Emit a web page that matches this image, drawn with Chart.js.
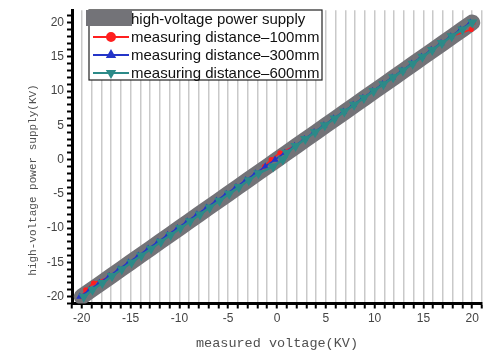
<!DOCTYPE html>
<html>
<head>
<meta charset="utf-8">
<script src="https://cdn.jsdelivr.net/npm/chart.js@4/dist/chart.umd.min.js"></script>
<style>
body{margin:0;background:#fff;}
#wrap{width:492px;height:352px;position:relative;}
</style>
</head>
<body>
<div id="wrap"><canvas id="voltchart"></canvas></div>
<script>
// supply voltage (KV), one point per kV
var supply=[-20,-19,-18,-17,-16,-15,-14,-13,-12,-11,-10,-9,-8,-7,-6,-5,-4,-3,-2,-1,0,1,2,3,4,5,6,7,8,9,10,11,12,13,14,15,16,17,18,19,20];
// measured voltage at each distance
var m100=[-20.0,-19.6,-18.8,-16.9,-15.9,-14.9,-13.9,-12.9,-11.9,-10.9,-9.9,-8.9,-7.9,-6.9,-5.9,-4.9,-3.9,-2.9,-1.9,-1.3,-0.6,0.3,1.9,2.9,3.9,4.9,5.9,6.9,7.9,8.9,9.9,10.9,11.9,12.9,13.9,14.9,15.9,16.9,17.9,19.9,20.1];
var m300=[-20.2,-19.2,-18.2,-17.2,-16.2,-15.2,-14.2,-13.2,-12.2,-11.2,-10.2,-9.2,-8.2,-7.2,-6.2,-5.2,-4.2,-3.2,-2.2,-1.2,-0.2,0.8,1.8,2.8,3.8,4.8,5.8,6.8,7.8,8.8,9.8,10.8,11.8,12.8,13.8,14.8,15.8,16.8,17.8,18.8,19.8];
var m600=[-19.8,-18.9,-17.9,-16.9,-15.9,-14.9,-13.9,-12.9,-11.9,-10.9,-9.9,-8.9,-7.9,-6.9,-5.9,-4.9,-3.9,-2.9,-1.9,-0.4,0.6,1.0,1.9,2.9,3.9,4.9,5.9,6.9,7.9,8.9,9.9,10.9,11.9,12.9,13.9,14.9,15.9,16.9,17.9,19.0,20.0];
var xLabels=[-20,-15,-10,-5,0,5,10,15,20];
var yLabels=[-20,-15,-10,-5,0,5,10,15,20];
var names=['high-voltage power supply','measuring distance\u2013100mm','measuring distance\u2013300mm','measuring distance\u2013600mm'];

function pts(xs,ys){
  var out=[];
  for(let i=0;i<xs.length;i++){out.push({x:xs[i],y:ys[i]});}
  return out;
}
function intTicks(scale){
  var t=[];
  for(let v=Math.ceil(scale.min);v<=Math.floor(scale.max);v++){t.push({value:v});}
  scale.ticks=t;
}

var legendBox={
  id:'legendBox',
  afterDraw:function(chart){
    var c=chart.ctx;
    var ds=chart.data.datasets;
    c.save();
    c.fillStyle='#fff';
    c.fillRect(89,10,233,70);
    c.strokeStyle='#222';
    c.lineWidth=1.2;
    c.strokeRect(89,10,233,70);
    var rows=[19,37,55,73];
    c.font='15px "Liberation Sans", Arial, sans-serif';
    c.textBaseline='middle';
    for(let i=0;i<ds.length;i++){
      var y=rows[i];
      if(i==0){
        c.fillStyle=ds[0].borderColor;
        c.fillRect(86,10,46,16);
      }else{
        c.strokeStyle=ds[i].borderColor;
        c.lineWidth=2;
        c.beginPath();c.moveTo(93,y);c.lineTo(129,y);c.stroke();
        c.fillStyle=ds[i].borderColor;
        Chart.helpers.drawPoint(c,{pointStyle:ds[i].pointStyle,rotation:ds[i].pointRotation||0,radius:4,borderWidth:1},111,y);
        c.fill();
      }
      c.fillStyle='#111';
      c.fillText(ds[i].label,131,y+1);
    }
    // y axis title
    c.translate(33,180);
    c.rotate(-Math.PI/2);
    c.font='11px "Liberation Mono", monospace';
    c.fillStyle='#505050';
    c.textAlign='center';
    c.fillText('high-voltage power supply(KV)',0,0);
    c.restore();
  }
};

var ctx=document.getElementById('voltchart');
var voltChart=new Chart(ctx,{
  type:'line',
  data:{
    datasets:[{
      label:names[0],
      data:pts(supply,supply),
      borderColor:'#737378',
      borderWidth:16,
      borderCapStyle:'round',
      pointRadius:0,
      order:4
    },{
      label:names[1],
      data:pts(m100,supply),
      borderColor:'#ff1f1f',
      backgroundColor:'#ff1f1f',
      borderWidth:1.5,
      pointStyle:'circle',
      pointRadius:1.8,
      order:3
    },{
      label:names[2],
      data:pts(m300,supply),
      borderColor:'#2435c8',
      backgroundColor:'#2435c8',
      borderWidth:1.5,
      pointStyle:'triangle',
      pointRadius:2.6,
      order:2
    },{
      label:names[3],
      data:pts(m600,supply),
      borderColor:'#2c8a88',
      backgroundColor:'#2c8a88',
      borderWidth:2.5,
      pointStyle:'triangle',
      pointRotation:180,
      pointRadius:3.5,
      order:1
    }]
  },
  options:{
    responsive:true,
    maintainAspectRatio:false,
    animation:false,
    layout:{padding:{left:0,right:10,top:0,bottom:0}},
    plugins:{legend:{display:false},tooltip:{enabled:false}},
    scales:{
      x:{
        type:'linear',
        min:-21,max:21,
        afterBuildTicks:intTicks,
        afterFit:function(s){s.height=48.5;},
        border:{color:'#000',width:3},
        grid:{color:'#c9c9c9',lineWidth:1.5,tickColor:'#000',tickLength:5,tickWidth:2},
        ticks:{
          autoSkip:false,maxRotation:0,padding:3,
          color:'#444',
          font:{family:'"Liberation Sans", Arial',size:12},
          callback:function(v){return xLabels.indexOf(v)>=0?String(v):'';}
        },
        title:{display:true,text:'measured voltage(KV)',color:'#505050',
          font:{family:'"Liberation Mono", monospace',size:13.5},padding:{top:2,bottom:0}}
      },
      y:{
        type:'linear',
        min:-21,max:21.8,
        afterBuildTicks:intTicks,
        afterFit:function(s){s.width=72;},
        border:{color:'#000',width:3},
        grid:{drawOnChartArea:false,tickColor:'#000',tickLength:5,tickWidth:2},
        ticks:{
          autoSkip:false,padding:3,
          color:'#444',
          font:{family:'"Liberation Sans", Arial',size:12},
          callback:function(v){return yLabels.indexOf(v)>=0?String(v):'';}
        }
      }
    }
  },
  plugins:[legendBox]
});
</script>
</body>
</html>
